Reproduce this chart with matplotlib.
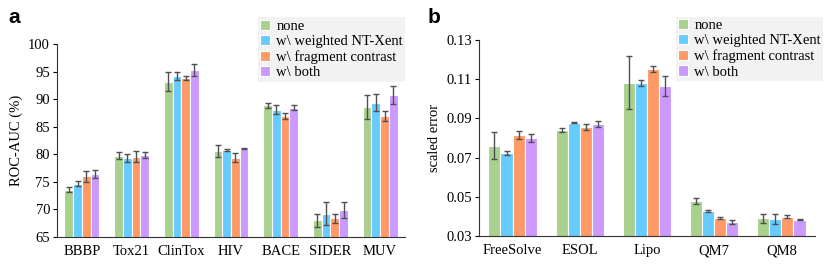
import numpy as np
import matplotlib.pyplot as plt

plt.rcParams['font.family'] = ['Liberation Serif', 'DejaVu Serif']

# data
series = ["none", "w\\ weighted NT-Xent", "w\\ fragment contrast", "w\\ both"]
colors = ["#A9D18E", "#66CCFF", "#FF9966", "#CC99FF"]

cls_tasks = ["BBBP", "Tox21", "ClinTox", "HIV", "BACE", "SIDER", "MUV"]
cls_none = [73.6, 79.8, 93.2, 80.6, 88.9, 68.0, 88.6]
cls_none_err = [0.5, 0.7, 1.7, 1.1, 0.5, 1.1, 2.2]
cls_ntx = [74.7, 79.3, 94.2, 80.8, 88.1, 69.2, 89.4]
cls_ntx_err = [0.5, 0.7, 0.7, 0.1, 0.8, 2.1, 1.5]
cls_frag = [76.0, 79.6, 93.9, 79.4, 87.0, 68.4, 87.0]
cls_frag_err = [1.0, 1.0, 0.4, 0.8, 0.6, 0.8, 0.9]
cls_both = [76.4, 79.9, 95.4, 81.0, 88.5, 69.9, 90.8]
cls_both_err = [0.7, 0.6, 1.1, 0.1, 0.5, 1.5, 1.7]

reg_tasks = ["FreeSolve", "ESOL", "Lipo", "QM7", "QM8"]
reg_none = [0.0761, 0.0841, 0.1082, 0.0477, 0.0390]
reg_none_err = [0.0070, 0.0008, 0.0134, 0.0015, 0.0023]
reg_ntx = [0.0722, 0.0878, 0.1082, 0.0428, 0.0387]
reg_ntx_err = [0.0010, 0.0002, 0.0015, 0.0007, 0.0025]
reg_frag = [0.0815, 0.0856, 0.1150, 0.0392, 0.0399]
reg_frag_err = [0.0020, 0.0015, 0.0015, 0.0007, 0.0007]
reg_both = [0.0798, 0.0870, 0.1065, 0.0370, 0.0383]
reg_both_err = [0.0020, 0.0015, 0.0050, 0.0010, 0.0003]


def draw_panel(ax, tasks, vals, errs, ylim, yticks, ylabel, fmt, bw, leg_anchor):
    x = np.arange(len(tasks))
    for i, (v, e) in enumerate(zip(vals, errs)):
        off = (i - 1.5) * bw
        ax.bar(x + off, v, bw, color=colors[i], edgecolor="white", linewidth=0.8,
               label=series[i], zorder=2)
        ax.errorbar(x + off, v, yerr=e, fmt="none", ecolor="#505050",
                    elinewidth=1.0, capsize=2, capthick=1.0, zorder=3)
    ax.set_xlim(-0.5, len(tasks) - 0.5)
    ax.set_ylim(*ylim)
    ax.set_yticks(yticks)
    ax.set_yticklabels([fmt.format(t) for t in yticks], fontsize=10.5)
    ax.set_xticks(x)
    ax.set_xticklabels(tasks, fontsize=10.5)
    ax.tick_params(axis="x", length=0, pad=6)
    ax.tick_params(axis="y", direction="out", length=3, width=0.8, pad=2)
    ax.spines["top"].set_visible(False)
    ax.spines["right"].set_visible(False)
    ax.spines["left"].set_color("#333333")
    ax.spines["bottom"].set_color("#333333")
    ax.set_ylabel(ylabel, fontsize=10.5, labelpad=4)
    leg = ax.legend(loc="upper right", bbox_to_anchor=leg_anchor, fontsize=10.5,
                    frameon=True, fancybox=False, handlelength=0.7, handleheight=0.7,
                    handletextpad=0.4, borderpad=0.15, labelspacing=0.15,
                    borderaxespad=0.0)
    leg.get_frame().set_facecolor("#EFEFEF")
    leg.get_frame().set_edgecolor("none")


fig = plt.figure(figsize=(8.31, 2.67), dpi=100)
ax1 = fig.add_axes([0.0686, 0.1124, 0.4188, 0.7217])
ax2 = fig.add_axes([0.5764, 0.1161, 0.4043, 0.734])

draw_panel(ax1, cls_tasks,
           [cls_none, cls_ntx, cls_frag, cls_both],
           [cls_none_err, cls_ntx_err, cls_frag_err, cls_both_err],
           (65, 100), [65, 70, 75, 80, 85, 90, 95, 100], "ROC-AUC (%)", "{:g}", 0.175,
           (1.0, 1.14))
draw_panel(ax2, reg_tasks,
           [reg_none, reg_ntx, reg_frag, reg_both],
           [reg_none_err, reg_ntx_err, reg_frag_err, reg_both_err],
           (0.03, 0.13), [0.03, 0.05, 0.07, 0.09, 0.11, 0.13], "scaled error", "{:.2f}", 0.18,
           (1.024, 1.12))

fig.text(0.010, 0.915, "a", fontsize=15, fontweight="bold", family="Liberation Sans")
fig.text(0.514, 0.915, "b", fontsize=15, fontweight="bold", family="Liberation Sans")

fig.savefig("out.png", dpi=100)
